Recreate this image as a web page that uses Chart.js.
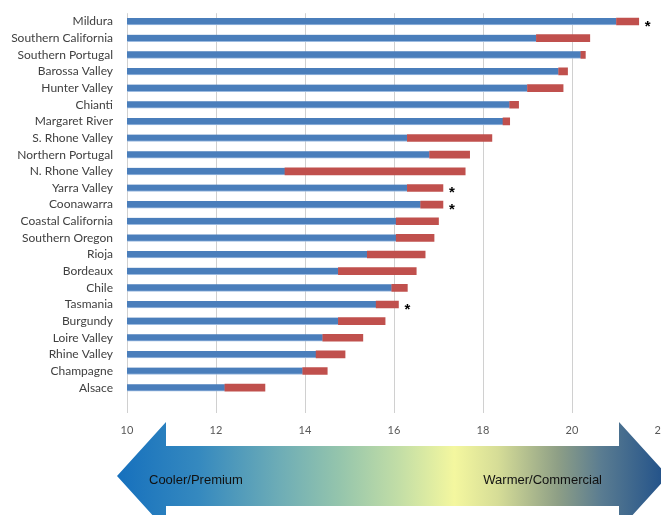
<!DOCTYPE html>
<html>
<head>
<meta charset="utf-8">
<script src="https://cdn.jsdelivr.net/npm/chart.js@4"></script>
<style>
  html, body { margin: 0; padding: 0; background: #fff; overflow: hidden; }
  #wrap { width: 700px; height: 515px; }
</style>
</head>
<body>
<div id="wrap"><canvas id="regions-chart" width="700" height="515"></canvas></div>
<script>
// wine regions, warmest at the top
const regions = [
    "Mildura", "Southern California", "Southern Portugal", "Barossa Valley", "Hunter Valley",
    "Chianti", "Margaret River", "S. Rhone Valley", "Northern Portugal", "N. Rhone Valley",
    "Yarra Valley", "Coonawarra", "Coastal California", "Southern Oregon", "Rioja",
    "Bordeaux", "Chile", "Tasmania", "Burgundy", "Loire Valley", "Rhine Valley",
    "Champagne", "Alsace"
];

// growing season temperature range (°C): lower and upper end
const lowTemps = [
    21.0, 19.2, 20.2, 19.7, 19.0,
    18.6, 18.45, 16.3, 16.8, 13.55,
    16.3, 16.6, 16.05, 16.05, 15.4,
    14.75, 15.95, 15.6, 14.75, 14.4, 14.25,
    13.95, 12.2
];
const highTemps = [
    21.5, 20.4, 20.3, 19.9, 19.8,
    18.8, 18.6, 18.2, 17.7, 17.6,
    17.1, 17.1, 17.0, 16.9, 16.7,
    16.5, 16.3, 16.1, 15.8, 15.3, 14.9,
    14.5, 13.1
];

// regions flagged with an asterisk
const flagged = ["Mildura", "Yarra Valley", "Coonawarra", "Tasmania"];

const xTicks = [10, 12, 14, 16, 18, 20, 22];

const BLUE = "#4A7EBB";
const RED = "#C0504D";

// asterisk after the end of flagged bars
const asteriskPlugin = {
    id: "asterisks",
    afterDatasetsDraw(chart) {
        const { ctx, scales: { x, y } } = chart;
        ctx.save();
        ctx.font = "bold 15px 'Liberation Sans', Arial, sans-serif";
        ctx.fillStyle = "#000";
        ctx.textAlign = "left";
        ctx.textBaseline = "middle";
        flagged.forEach(name => {
            const i = regions.indexOf(name);
            ctx.fillText("*", x.getPixelForValue(highTemps[i]) + 6, y.getPixelForValue(i) + 5);
        });
        ctx.restore();
    }
};

// double headed gradient arrow under the axis
const arrowPlugin = {
    id: "climateArrow",
    beforeDraw(chart) {
        const ctx = chart.ctx;
        const left = 117, right = 668, mid = 476;
        const headW = 49, headH = 54, bodyH = 30;
        ctx.save();
        const grad = ctx.createLinearGradient(left, 0, 661, 0);
        grad.addColorStop(0.00, "#1670bd");
        grad.addColorStop(0.15, "#3589bf");
        grad.addColorStop(0.30, "#6eadb6");
        grad.addColorStop(0.41, "#95c5ac");
        grad.addColorStop(0.52, "#c3dea6");
        grad.addColorStop(0.62, "#f4f79f");
        grad.addColorStop(0.70, "#d6dd97");
        grad.addColorStop(0.81, "#8e9f86");
        grad.addColorStop(0.89, "#5a7c91");
        grad.addColorStop(1.00, "#25548a");
        ctx.fillStyle = grad;
        ctx.beginPath();
        ctx.moveTo(left, mid);
        ctx.lineTo(left + headW, mid - headH);
        ctx.lineTo(left + headW, mid - bodyH);
        ctx.lineTo(right - headW, mid - bodyH);
        ctx.lineTo(right - headW, mid - headH);
        ctx.lineTo(right, mid);
        ctx.lineTo(right - headW, mid + headH);
        ctx.lineTo(right - headW, mid + bodyH);
        ctx.lineTo(left + headW, mid + bodyH);
        ctx.lineTo(left + headW, mid + headH);
        ctx.closePath();
        ctx.fill();

        ctx.font = "13px 'Liberation Sans', Arial, sans-serif";
        ctx.fillStyle = "#111";
        ctx.textBaseline = "middle";
        ctx.textAlign = "left";
        ctx.fillText("Cooler/Premium", 149, 480);
        ctx.textAlign = "right";
        ctx.fillText("Warmer/Commercial", 602, 480);
        ctx.restore();
    }
};

new Chart(document.getElementById("regions-chart"), {
    type: "bar",
    data: {
        labels: regions,
        datasets: [
            {
                data: lowTemps,
                backgroundColor: BLUE,
                borderColor: "#9dbbe0",
                borderWidth: { top: 0, bottom: 1, left: 0, right: 0 },
                borderSkipped: false,
                barThickness: 7,
                grouped: false,
                order: 2
            },
            {
                data: lowTemps.map((lo, i) => [lo, highTemps[i]]),
                backgroundColor: RED,
                barThickness: 7,
                grouped: false,
                order: 1
            }
        ]
    },
    options: {
        indexAxis: "y",
        responsive: false,
        animation: false,
        layout: { padding: { top: 1, right: 39, bottom: 0, left: 0 } },
        scales: {
            x: {
                type: "linear",
                min: 10,
                max: 22,
                afterBuildTicks: scale => { scale.ticks = xTicks.map(v => ({ value: v })); },
                afterFit: scale => { scale.height = 119; },
                grid: { color: "#d0d0d0", lineWidth: 1, tickLength: 17, drawTicks: true },
                border: { display: false },
                ticks: {
                    padding: 11,
                    color: "#595959",
                    font: { family: "Lato, 'Liberation Sans', sans-serif", size: 11 }
                }
            },
            y: {
                afterFit: scale => { scale.width = 127; },
                grid: { display: false },
                border: { display: false },
                ticks: {
                    padding: 6,
                    autoSkip: false,
                    color: "#404040",
                    font: { family: "Lato, 'Liberation Sans', sans-serif", size: 12 }
                }
            }
        },
        plugins: {
            legend: { display: false },
            tooltip: { enabled: false }
        }
    },
    plugins: [arrowPlugin, asteriskPlugin]
});
</script>
</body>
</html>
